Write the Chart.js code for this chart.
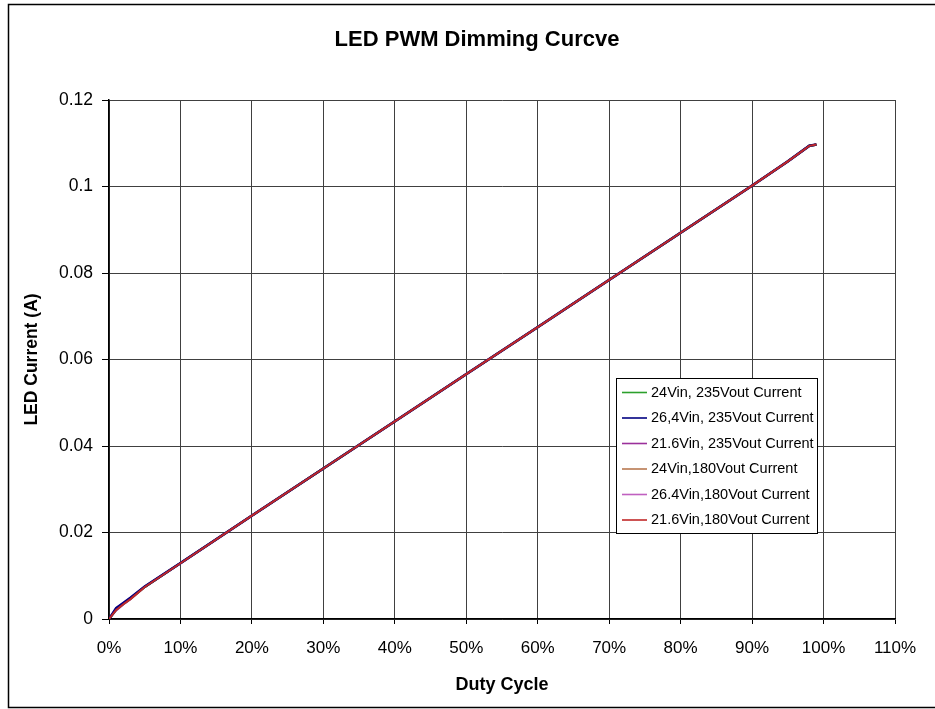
<!DOCTYPE html>
<html>
<head>
<meta charset="utf-8">
<script src="https://cdn.jsdelivr.net/npm/chart.js@4/dist/chart.umd.min.js"></script>
<style>
  html, body { margin: 0; padding: 0; background: #fff; }
  #wrap { position: relative; width: 935px; height: 709px; }
  canvas { display: block; }
</style>
</head>
<body>
<div id="wrap"><canvas id="c" width="935" height="709"></canvas></div>
<script>
// ---- data ----
const chartTitle = 'LED PWM Dimming Curcve';
const xAxisTitle = 'Duty Cycle';
const yAxisTitle = 'LED Current (A)';
const xTickLabels = ['0%','10%','20%','30%','40%','50%','60%','70%','80%','90%','100%','110%'];
const yTickLabels = ['0','0.02','0.04','0.06','0.08','0.1','0.12'];
const seriesLabels = [
  '24Vin, 235Vout Current',
  '26,4Vin, 235Vout Current',
  '21.6Vin, 235Vout Current',
  '24Vin,180Vout Current',
  '26.4Vin,180Vout Current',
  '21.6Vin,180Vout Current'
];
const seriesColors = ['#2ca02c', '#000080', '#9b309b', '#b87850', '#c060c0', '#c02828'];
const duty = [0, 1, 2, 3, 5, 10, 20, 30, 40, 50, 60, 70, 80, 90, 95, 98, 99];
const s24v235  = [0, 0.0022, 0.0035, 0.0047, 0.0074, 0.0129, 0.0239, 0.0348, 0.0457, 0.0566, 0.0675, 0.0784, 0.0893, 0.1002, 0.1058, 0.1094, 0.1097];
const s264v235 = [0, 0.0025, 0.0037, 0.0049, 0.0075, 0.0129, 0.0239, 0.0348, 0.0457, 0.0566, 0.0675, 0.0784, 0.0893, 0.1002, 0.1058, 0.1094, 0.1097];
const s216v235 = [0, 0.0020, 0.0034, 0.0046, 0.0074, 0.0129, 0.0239, 0.0348, 0.0457, 0.0566, 0.0675, 0.0784, 0.0893, 0.1002, 0.1058, 0.1094, 0.1097];
const s24v180  = [0, 0.0022, 0.0035, 0.0047, 0.0074, 0.0129, 0.0239, 0.0348, 0.0457, 0.0566, 0.0675, 0.0784, 0.0893, 0.1002, 0.1058, 0.1094, 0.1097];
const s264v180 = [0, 0.0025, 0.0037, 0.0049, 0.0075, 0.0129, 0.0239, 0.0348, 0.0457, 0.0566, 0.0675, 0.0784, 0.0893, 0.1002, 0.1058, 0.1094, 0.1097];
const s216v180 = [0, 0.0021, 0.0034, 0.0046, 0.0074, 0.0129, 0.0239, 0.0348, 0.0457, 0.0566, 0.0675, 0.0784, 0.0893, 0.1002, 0.1058, 0.1094, 0.1097];
const seriesValues = [s24v235, s264v235, s216v235, s24v180, s264v180, s216v180];

const FONT = '"Liberation Sans", Arial, sans-serif';

const datasets = seriesLabels.map((lab, i) => ({
  label: lab,
  data: duty.map((d, j) => ({ x: d, y: seriesValues[i][j] })),
  borderColor: seriesColors[i],
  backgroundColor: seriesColors[i],
  borderWidth: i === 5 ? 2 : (i === 1 ? 2.6 : 2.2),
  pointRadius: 0,
  tension: 0,
  fill: false,
  order: i === 5 ? 0 : (i === 1 ? 1 : 2 + i)
}));

const framePlugin = {
  id: 'frameTitle',
  beforeDraw(chart) {
    const ctx = chart.ctx;
    ctx.save();
    ctx.fillStyle = '#fff';
    ctx.fillRect(0, 0, chart.width, chart.height);
    ctx.strokeStyle = '#000';
    ctx.lineWidth = 1.5;
    ctx.beginPath();
    ctx.moveTo(935, 4.5); ctx.lineTo(8.5, 4.5); ctx.lineTo(8.5, 707.5); ctx.lineTo(935, 707.5);
    ctx.stroke();
    ctx.fillStyle = '#000';
    ctx.font = 'bold 22px ' + FONT;
    ctx.textAlign = 'center';
    ctx.textBaseline = 'middle';
    ctx.fillText(chartTitle, 477, 40);
    ctx.restore();
  },
  afterDraw(chart) {
    const ctx = chart.ctx;
    ctx.save();
    const bx = 616.5, by = 378.5, bw = 201, bh = 155;
    ctx.fillStyle = '#fff';
    ctx.fillRect(bx, by, bw, bh);
    ctx.strokeStyle = '#000';
    ctx.lineWidth = 1;
    ctx.strokeRect(bx, by, bw, bh);
    ctx.font = '14.5px ' + FONT;
    ctx.textAlign = 'left';
    ctx.textBaseline = 'middle';
    chart.data.datasets.forEach((ds, i) => {
      const yy = 392.5 + i * 25.5;
      ctx.strokeStyle = ds.borderColor;
      ctx.lineWidth = 1.6;
      ctx.beginPath();
      ctx.moveTo(622, yy); ctx.lineTo(647, yy);
      ctx.stroke();
      ctx.fillStyle = '#000';
      ctx.fillText(ds.label, 651, yy);
    });
    ctx.restore();
  }
};

new Chart(document.getElementById('c'), {
  type: 'line',
  data: { datasets },
  plugins: [framePlugin],
  options: {
    responsive: false,
    animation: false,
    layout: { padding: { left: 8, right: 40, top: 100, bottom: 5 } },
    plugins: {
      legend: { display: false },
      title: { display: false },
      tooltip: { enabled: false }
    },
    scales: {
      x: {
        type: 'linear',
        min: 0, max: 110,
        afterFit: s => { s.height = 85; },
        ticks: {
          stepSize: 10,
          color: '#000',
          font: { family: FONT, size: 17 },
          padding: 14,
          maxRotation: 0,
          autoSkip: false,
          callback: (v) => xTickLabels[Math.round(v / 10)]
        },
        grid: { color: '#404040', lineWidth: 1, tickLength: 5, tickColor: '#000' },
        border: { color: '#000', width: 1.5 },
        title: {
          display: true, text: xAxisTitle, color: '#000',
          font: { family: FONT, size: 18, weight: 'bold' },
          padding: { top: 0, bottom: 8 }
        }
      },
      y: {
        min: 0, max: 0.12,
        afterFit: s => { s.width = 101; },
        ticks: {
          stepSize: 0.02,
          color: '#000',
          font: { family: FONT, size: 17.5 },
          padding: 9,
          callback: (v) => yTickLabels[Math.round(v / 0.02)]
        },
        grid: { color: '#404040', lineWidth: 1, tickLength: 7, tickColor: '#000' },
        border: { color: '#000', width: 1.5 },
        title: {
          display: true, text: yAxisTitle, color: '#000',
          font: { family: FONT, size: 17.5, weight: 'bold' },
          padding: { top: 14, bottom: 0 }
        }
      }
    }
  }
});
</script>
</body>
</html>
